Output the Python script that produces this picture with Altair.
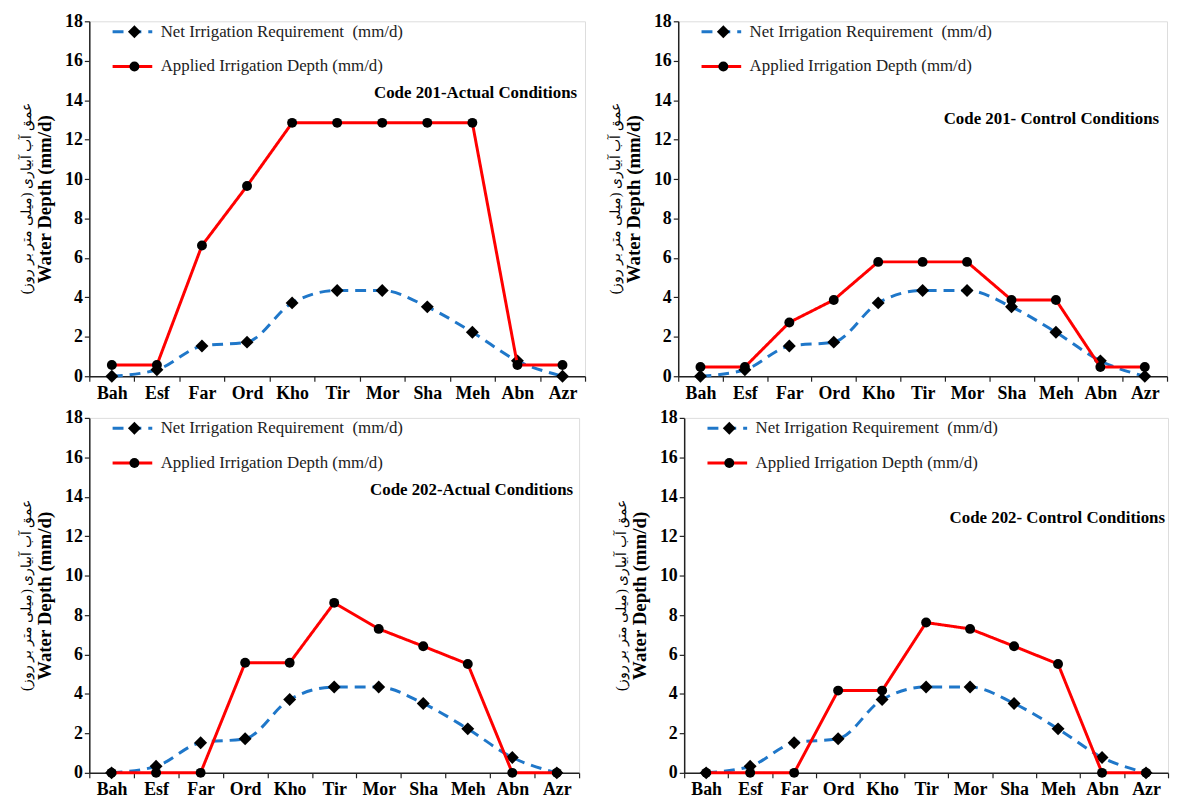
import altair as alt
import pandas as pd

categories = ["Bah", "Esf", "Far", "Ord", "Kho", "Tir", "Mor", "Sha", "Meh", "Abn", "Azr"]
net_requirement = [0, 0.33, 1.53, 1.73, 3.72, 4.35, 4.35, 3.52, 2.23, 0.78, 0]
applied_201_actual = [0.57, 0.57, 6.63, 9.65, 12.85, 12.85, 12.85, 12.85, 12.85, 0.57, 0.57]
applied_201_control = [0.47, 0.47, 2.73, 3.87, 5.8, 5.8, 5.8, 3.87, 3.87, 0.47, 0.47]
applied_202_actual = [0, 0, 0, 5.58, 5.58, 8.62, 7.3, 6.42, 5.52, 0, 0]
applied_202_control = [0, 0, 0, 4.17, 4.17, 7.62, 7.3, 6.42, 5.52, 0, 0]

panel_titles = ["Code 201-Actual Conditions", "Code 201- Control Conditions",
                "Code 202-Actual Conditions", "Code 202- Control Conditions"]
y_ticks = [0, 2, 4, 6, 8, 10, 12, 14, 16, 18]

NET = "Net Irrigation Requirement \u00a0(mm/d)"
APP = "Applied Irrigation Depth (mm/d)"
SERIES = [NET, APP]
MARKERS = ["net marker", "applied marker"]
PERSIAN = "\u200fعمق آب آبیاری (میلی متر بر روز)\u200f"

SERIF = "Liberation Serif"
BLUE = "#1f77c9"
RED = "#ff0000"


def panel(applied, title, width, title_y, title_dx):
    height = 358
    rows = []
    for c, n, a in zip(categories, net_requirement, applied):
        rows.append({"category": c, "value": n, "series": NET, "marker": MARKERS[0]})
        rows.append({"category": c, "value": a, "series": APP, "marker": MARKERS[1]})
    df = pd.DataFrame(rows)

    x = alt.X("category:N", sort=categories,
              scale=alt.Scale(type="band", paddingInner=0, paddingOuter=0),
              axis=alt.Axis(title=None, labelAngle=0, tickBand="extent", tickSize=5,
                            labelPadding=3, labelFontSize=18, labelFontWeight="bold",
                            labelFont=SERIF, labelColor="black", domainColor="#222",
                            tickColor="#222", domainWidth=1.5, tickWidth=1.2))
    y = alt.Y("value:Q",
              scale=alt.Scale(domain=[0, 18], nice=False),
              axis=alt.Axis(values=y_ticks, title="Water Depth (mm/d)", titleFont=SERIF,
                            titleFontSize=19, titleFontWeight="bold", titleColor="black",
                            titlePadding=10, labelFont=SERIF, labelFontSize=18,
                            labelFontWeight="bold", labelColor="black", tickSize=5,
                            labelPadding=2, domainColor="#222", tickColor="#222",
                            domainWidth=1.5, tickWidth=1.2, grid=False))

    leg_common = dict(orient="none", title=None, labelFont=SERIF, labelFontSize=17,
                      labelColor="#222", legendY=2, rowPadding=17, clipHeight=17,
                      padding=0, direction="vertical", labelLimit=600)
    line_leg = alt.Legend(legendX=22, symbolType="stroke", symbolSize=1600,
                          symbolStrokeWidth=3, labelOffset=7, **leg_common)
    pt_leg = alt.Legend(legendX=37, labelExpr="''", symbolFillColor="black",
                        symbolStrokeColor="black", symbolStrokeWidth=0, **leg_common)

    color = alt.Color("series:N", scale=alt.Scale(domain=SERIES, range=[BLUE, RED]),
                      legend=line_leg)
    dash = alt.StrokeDash("series:N", scale=alt.Scale(domain=SERIES, range=[[11, 7], [1, 0]]),
                          legend=line_leg)
    shape = alt.Shape("marker:N", scale=alt.Scale(domain=MARKERS, range=["diamond", "circle"]),
                      legend=pt_leg)
    size = alt.Size("marker:N", scale=alt.Scale(domain=MARKERS, range=[170, 100]),
                    legend=pt_leg)

    base = alt.Chart(df)
    net_line = base.transform_filter(alt.datum.series == NET).mark_line(
        strokeWidth=3, interpolate="monotone").encode(x=x, y=y, color=color, strokeDash=dash)
    app_line = base.transform_filter(alt.datum.series == APP).mark_line(
        strokeWidth=3).encode(x=x, y=y, color=color, strokeDash=dash)
    net_pts = base.transform_filter(alt.datum.series == NET).mark_point(
        filled=True, color="black", opacity=1).encode(x=x, y=y, shape=shape, size=size)
    app_pts = base.transform_filter(alt.datum.series == APP).mark_point(
        filled=True, color="black", opacity=1).encode(x=x, y=y, shape=shape, size=size)

    title_txt = alt.Chart(pd.DataFrame({"t": [title]})).mark_text(
        align="right", baseline="middle", font=SERIF, fontSize=17, fontWeight="bold",
        color="black").encode(x=alt.value(width + title_dx), y=alt.value(title_y), text="t:N")
    persian = alt.Chart(pd.DataFrame({"t": [PERSIAN]})).mark_text(
        angle=270, align="center", baseline="middle", font=SERIF, fontSize=14,
        color="black").encode(x=alt.value(-63), y=alt.value(height / 2), text="t:N")

    return alt.layer(net_line, net_pts, app_line, app_pts, title_txt, persian).properties(
        width=width, height=height)


indep = dict(color="independent", strokeDash="independent", shape="independent",
             size="independent")

top = alt.hconcat(
    panel(applied_201_actual, panel_titles[0], 500, 72, -8),
    panel(applied_201_control, panel_titles[1], 493, 99, -8),
    spacing=21).resolve_scale(**indep)
bottom = alt.hconcat(
    panel(applied_202_actual, panel_titles[2], 494, 73, -6),
    panel(applied_202_control, panel_titles[3], 488, 101, -3),
    spacing=33).resolve_scale(**indep)

chart = alt.vconcat(top, bottom, spacing=5).resolve_scale(**indep).properties(
    padding={"left": 11, "top": 0, "right": 0, "bottom": 0}
).configure_view(stroke=None).configure(background="white")

chart.save("out.html", embed_options={"renderer": "svg", "actions": False})
